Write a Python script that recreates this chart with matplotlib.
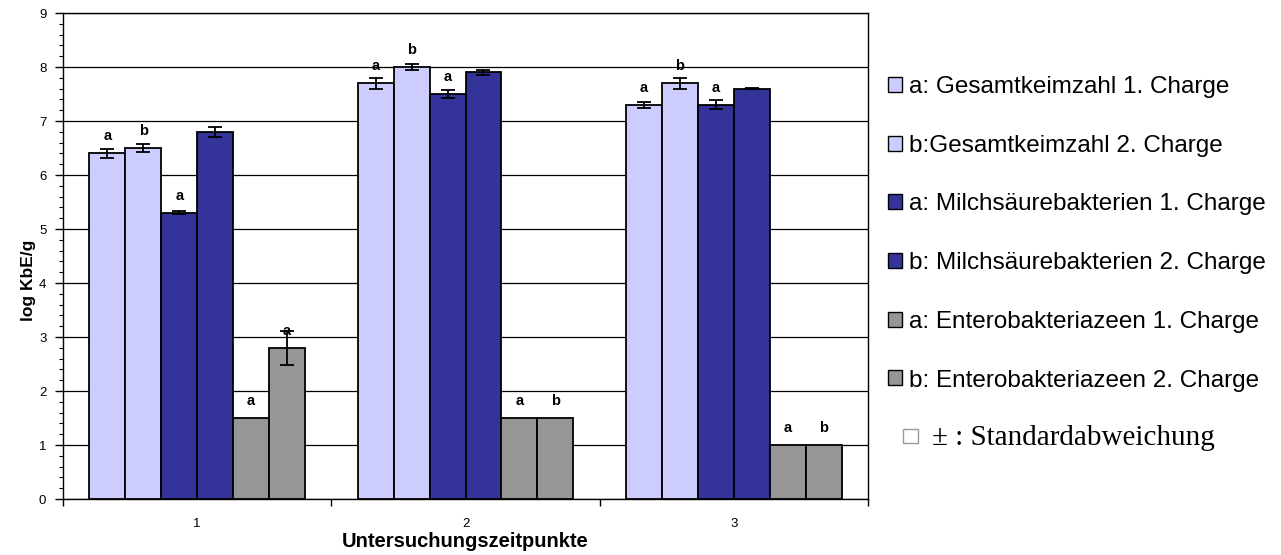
import matplotlib
matplotlib.use("Agg")
import matplotlib.pyplot as plt
from matplotlib.patches import Rectangle
import numpy as np

plt.rcParams['font.family'] = ['Liberation Sans', 'DejaVu Sans']

# Sampling times
categories = ["1", "2", "3"]

series_names = [
    "a: Gesamtkeimzahl 1. Charge",
    "b:Gesamtkeimzahl 2. Charge",
    "a: Milchsäurebakterien 1. Charge",
    "b: Milchsäurebakterien 2. Charge",
    "a: Enterobakteriazeen 1. Charge",
    "b: Enterobakteriazeen 2. Charge",
]
series_colors = ["#CCCCFF", "#CCCCFF", "#333399", "#333399", "#969696", "#969696"]

# Mean log KbE/g per series, one value per sampling time
gesamt_1 = [6.4, 7.7, 7.3]
gesamt_2 = [6.5, 8.0, 7.7]
milch_1 = [5.3, 7.5, 7.3]
milch_2 = [6.8, 7.9, 7.6]
entero_1 = [1.5, 1.5, 1.0]
entero_2 = [2.8, 1.5, 1.0]

# Standard deviations
gesamt_1_sd = [0.09, 0.10, 0.05]
gesamt_2_sd = [0.08, 0.05, 0.10]
milch_1_sd = [0.03, 0.07, 0.08]
milch_2_sd = [0.09, 0.05, 0.005]
entero_1_sd = [0.0, 0.0, 0.0]
entero_2_sd = [0.32, 0.0, 0.0]

# Significance letters above the bars
gesamt_1_lbl = ["a", "a", "a"]
gesamt_2_lbl = ["b", "b", "b"]
milch_1_lbl = ["a", "a", "a"]
milch_2_lbl = ["", "", ""]
entero_1_lbl = ["a", "a", "a"]
entero_2_lbl = ["a", "b", "b"]

values = [gesamt_1, gesamt_2, milch_1, milch_2, entero_1, entero_2]
errors = [gesamt_1_sd, gesamt_2_sd, milch_1_sd, milch_2_sd, entero_1_sd, entero_2_sd]
letters = [gesamt_1_lbl, gesamt_2_lbl, milch_1_lbl, milch_2_lbl, entero_1_lbl, entero_2_lbl]

W, H = 1281, 555
fig = plt.figure(figsize=(W / 100, H / 100), dpi=100)
ax = fig.add_axes([63 / W, 1 - 499 / H, (868 - 63) / W, (499 - 13) / H])

x = np.arange(len(categories)) + 1
width = 0.134
handles = []
for i, (vals, errs, lbls, col, name) in enumerate(zip(values, errors, letters, series_colors, series_names)):
    pos = x + (i - 2.5) * width
    bars = ax.bar(pos, vals, width, color=col, edgecolor="black", linewidth=1.3,
                  label=name, zorder=3)
    handles.append(bars)
    for p, v, e in zip(pos, vals, errs):
        if e > 0:
            ax.errorbar(p, v, yerr=e, fmt="none", ecolor="black", elinewidth=1.3,
                        capsize=5, capthick=1.3, zorder=4)
    for p, v, s in zip(pos, vals, lbls):
        if s:
            ax.text(p, v + 0.32, s, ha="center", va="center", fontsize=10.5,
                    fontweight="bold", zorder=5)

ax.set_xlim(0.5, 3.5)
ax.set_ylim(0, 9)
ax.set_yticks(np.arange(0, 10, 1))
ax.set_yticks(np.arange(0, 9.01, 0.2), minor=True)
ax.yaxis.grid(True, which="major", color="black", linewidth=0.9, zorder=0)
ax.set_axisbelow(True)

# Category ticks sit on the boundaries, labels at the centres
ax.set_xticks([0.5, 1.5, 2.5, 3.5])
ax.set_xticklabels([])
ax.set_xticks(x, minor=True)
ax.set_xticklabels(categories, minor=True)
ax.tick_params(axis="x", which="major", direction="out", length=5, width=1)
ax.tick_params(axis="x", which="minor", length=0, pad=14, labelsize=9.5)
ax.tick_params(axis="y", which="major", direction="out", length=6, width=1, labelsize=9.5, pad=6)
ax.tick_params(axis="y", which="minor", direction="out", length=3, width=0.8)

for sp in ax.spines.values():
    sp.set_color("black")
    sp.set_linewidth(1.0)

ax.set_ylabel("log KbE/g", fontsize=12.5, fontweight="bold")
ax.yaxis.set_label_coords((36 - 63) / 805, 1 - (280 - 13) / 486)
ax.set_xlabel("Untersuchungszeitpunkte", fontsize=14.5, fontweight="bold", labelpad=1)

leg = fig.legend(handles, series_names,
                 loc="upper left", bbox_to_anchor=(888 / W, 1 - 76 / H),
                 frameon=False, fontsize=17.5, labelspacing=1.51,
                 handlelength=0.58, handleheight=0.58, handletextpad=0.29,
                 borderaxespad=0, borderpad=0)
for h in leg.legend_handles:
    h.set_linewidth(1.0)

# Key for the error bars
fig.patches.append(Rectangle((903 / W, 1 - 443 / H), 15 / W, 14 / H,
                             transform=fig.transFigure, facecolor="white",
                             edgecolor="#999999", linewidth=1.0))
fig.text(932 / W, 1 - 438 / H, "± : Standardabweichung", fontsize=21,
         fontfamily="Liberation Serif", ha="left", va="center")

fig.savefig("out.png", dpi=100)
